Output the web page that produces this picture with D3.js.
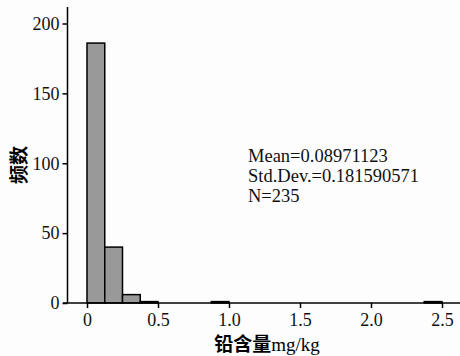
<!DOCTYPE html>
<html>
<head>
<meta charset="utf-8">
<script src="https://cdn.jsdelivr.net/npm/d3@7"></script>
<style>
  body { margin: 0; background: #fdfdfd; }
  text { font-family: "Liberation Serif", "DejaVu Serif", serif; }
</style>
</head>
<body>
<div id="chart"></div>
<script>
// bin edges (mg/kg) and counts
var binStart = [0, 0.125, 0.25, 0.375, 0.875, 2.375]
var binEnd   = [0.125, 0.25, 0.375, 0.5, 1.0, 2.5]
var counts   = [186, 40, 6, 1, 1, 1]
var xTicks = [0, 0.5, 1.0, 1.5, 2.0, 2.5]
var xTickLabels = ["0", "0.5", "1.0", "1.5", "2.0", "2.5"]
var yTicks = [0, 50, 100, 150, 200]
var statLines = ["Mean=0.08971123", "Std.Dev.=0.181590571", "N=235"]

var W = 460, H = 356

var svg = d3.select("#chart").append("svg")
  .attr("width", W).attr("height", H)

var x = d3.scaleLinear().domain([0, 2.5]).range([87, 442])
var y = d3.scaleLinear().domain([0, 200]).range([303, 23.5])

// bars
svg.append("g").selectAll("rect")
  .data(counts)
  .enter().append("rect")
    .attr("x", (d, i) => x(binStart[i]))
    .attr("y", d => y(d))
    .attr("width", (d, i) => x(binEnd[i]) - x(binStart[i]))
    .attr("height", d => y(0) - y(d))
    .style("fill", "#999999")
    .style("stroke", "#000")
    .style("stroke-width", 1.5)

// axes lines
svg.append("line")
  .attr("x1", 63).attr("x2", 460).attr("y1", y(0)).attr("y2", y(0))
  .style("stroke", "#000").style("stroke-width", 1.5)
svg.append("line")
  .attr("x1", 67.5).attr("x2", 67.5).attr("y1", 7).attr("y2", y(0))
  .style("stroke", "#000").style("stroke-width", 1.5)

var xAxis = d3.axisBottom(x).tickValues(xTicks)
  .tickFormat((d, i) => xTickLabels[i]).tickSize(5).tickPadding(5)
var gx = svg.append("g").attr("transform", "translate(0," + y(0) + ")").call(xAxis)
gx.select(".domain").remove()
gx.selectAll("line").style("stroke-width", 1.5)
gx.selectAll("text").style("font-size", "18px").style("font-family", "Liberation Serif").attr("fill", "#111")

var yAxis = d3.axisLeft(y).tickValues(yTicks).tickSize(5).tickPadding(3)
var gy = svg.append("g").attr("transform", "translate(67.5,0)").call(yAxis)
gy.select(".domain").remove()
gy.selectAll("line").style("stroke-width", 1.5)
gy.selectAll("text").style("font-size", "18px").style("font-family", "Liberation Serif").attr("fill", "#111")

// axis titles
svg.append("text")
  .attr("transform", "translate(26,165) rotate(-90)")
  .attr("text-anchor", "middle")
  .style("font-family", "Noto Sans CJK SC")
  .style("font-size", "19px")
  .style("font-weight", "bold")
  .text("频数")

var xt = svg.append("text")
  .attr("x", 267).attr("y", 351)
  .attr("text-anchor", "middle")
  .style("font-size", "19px")
xt.append("tspan").style("font-family", "Noto Sans CJK SC").style("font-weight", "bold").text("铅含量")
xt.append("tspan").style("font-family", "Liberation Serif").text("mg/kg")

// stats text
svg.append("g").selectAll("text")
  .data(statLines)
  .enter().append("text")
    .attr("x", 248)
    .attr("y", (d, i) => 162 + i * 20)
    .style("font-size", "18.5px")
    .attr("fill", "#111")
    .text(d => d)
</script>
</body>
</html>
